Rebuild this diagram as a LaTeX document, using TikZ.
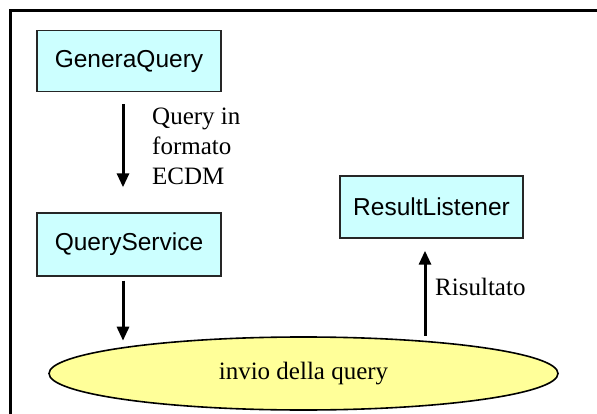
\documentclass[tikz,border=0pt]{standalone}
\usepackage{fontspec}
\setmainfont{Liberation Serif}
\newfontfamily\boxfont{Liberation Sans}
\usetikzlibrary{shapes.geometric,arrows.meta}

\definecolor{boxcyan}{HTML}{CCFFFF}
\definecolor{ovalyellow}{HTML}{FFFF99}

\tikzset{
  classbox/.style={draw=black!85, line width=1.4pt, fill=boxcyan,
    minimum width=184pt, minimum height=61pt, inner sep=0pt,
    font=\boxfont\fontsize{24.5}{29}\selectfont},
  channel/.style={ellipse, draw=black, line width=1.6pt, fill=ovalyellow,
    minimum width=509pt, minimum height=73pt, inner sep=0pt,
    font=\fontsize{25}{30}\selectfont},
  flow/.style={line width=3pt, -{Triangle[width=12pt,length=14pt]}},
  note/.style={inner sep=0pt, anchor=base west, align=left,
    font=\fontsize{25}{30}\selectfont}
}

\begin{document}
\begin{tikzpicture}[x=1pt,y=-1pt]
  \useasboundingbox (0,0) rectangle (597,414);

  % open frame: left and top edges only
  \draw[line width=3pt] (10,414) -- (10,11) -- (597,11);

  \node[classbox] (gq) at (129,61) {GeneraQuery};
  \node[classbox, minimum height=63pt] (qs) at (129,244.5) {QueryService};
  \node[classbox, minimum width=183pt, minimum height=62pt] (rl) at (431.5,207) {ResultListener};
  \node[channel] (q) at (303.5,373.5) {invio della query};

  % GeneraQuery -> QueryService (label anchored on its last line's baseline)
  \draw[flow] ([xshift=-6pt,yshift=-12pt]gq.south) -- ([xshift=-6pt,yshift=25pt]qs.north);
  \node[note] (fmt) at (152,185) {Query in\\[0pt]formato\\[0pt]ECDM};

  % QueryService -> channel
  \draw[flow] ([xshift=-6pt,yshift=-4pt]qs.south) -- ([xshift=-6pt,yshift=-64pt]qs.south);

  % channel -> ResultListener
  \draw[flow] ([xshift=-6.5pt,yshift=-97pt]rl.south) -- ([xshift=-6.5pt,yshift=-12pt]rl.south);
  \node[note] (res) at (435,295) {Risultato};
\end{tikzpicture}
\end{document}
